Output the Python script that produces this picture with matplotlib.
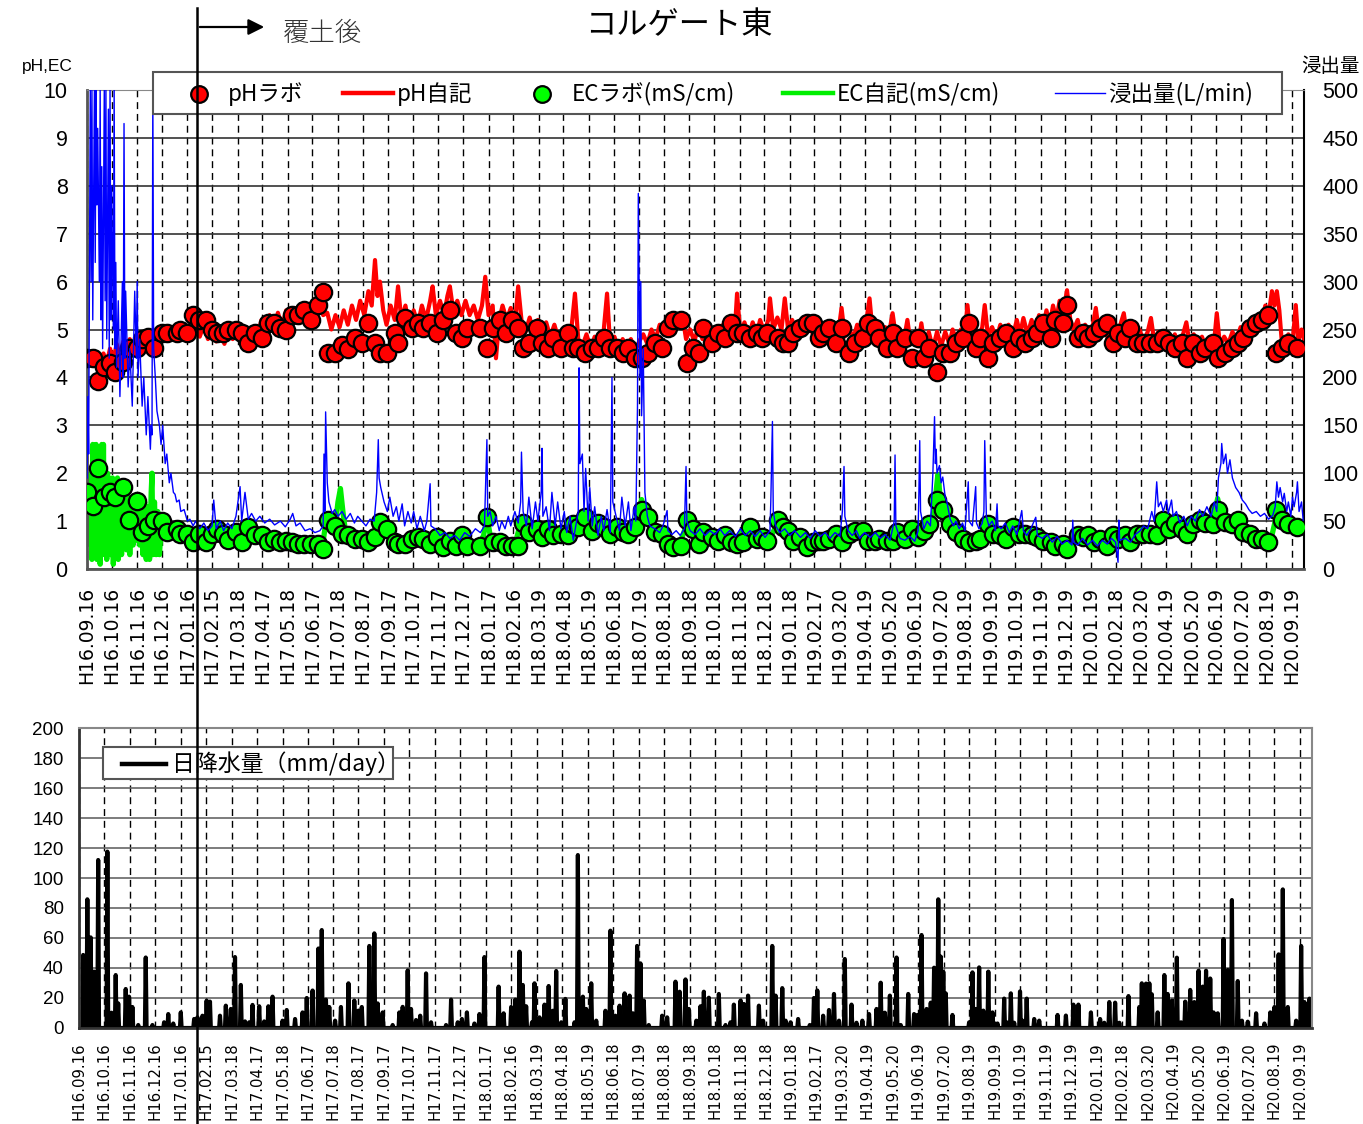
import datetime as dt
import numpy as np
import matplotlib
matplotlib.use("Agg")
import matplotlib.pyplot as plt
from matplotlib.lines import Line2D
from matplotlib.patches import Rectangle, FancyArrowPatch

plt.rcParams['font.family'] = ['Liberation Sans', 'Noto Sans CJK JP', 'DejaVu Sans']
JP = ['Noto Sans CJK JP', 'DejaVu Sans']

# 目盛ラベル(和暦 年.月.日)
tick_labels = [
    'H16.09.16', 'H16.10.16', 'H16.11.16', 'H16.12.16', 'H17.01.16', 'H17.02.15',
    'H17.03.18', 'H17.04.17', 'H17.05.18', 'H17.06.17', 'H17.07.18', 'H17.08.17',
    'H17.09.17', 'H17.10.17', 'H17.11.17', 'H17.12.17', 'H18.01.17', 'H18.02.16',
    'H18.03.19', 'H18.04.18', 'H18.05.19', 'H18.06.18', 'H18.07.19', 'H18.08.18',
    'H18.09.18', 'H18.10.18', 'H18.11.18', 'H18.12.18', 'H19.01.18', 'H19.02.17',
    'H19.03.20', 'H19.04.19', 'H19.05.20', 'H19.06.19', 'H19.07.20', 'H19.08.19',
    'H19.09.19', 'H19.10.19', 'H19.11.19', 'H19.12.19', 'H20.01.19', 'H20.02.18',
    'H20.03.20', 'H20.04.19', 'H20.05.20', 'H20.06.19', 'H20.07.20', 'H20.08.19',
    'H20.09.19',
]

# ラボ分析 (H16.09.16 からの経過日数)
lab_day = [
    0, 7, 13, 21, 28, 34, 44, 51, 61, 67,
    74, 81, 91, 97, 109, 113, 122, 129, 136, 145,
    152, 158, 165, 171, 181, 188, 196, 204, 213, 220,
    227, 235, 242, 249, 256, 264, 272, 281, 287, 293,
    301, 310, 317, 326, 334, 342, 350, 356, 365, 374,
    378, 386, 395, 402, 408, 417, 425, 433, 441, 448,
    456, 462, 478, 486, 493, 502, 509, 517, 524, 530,
    537, 547, 553, 560, 566, 576, 585, 591, 597, 605,
    614, 621, 628, 636, 644, 651, 658, 666, 675, 682,
    690, 699, 706, 712, 722, 729, 737, 744, 749, 760,
    767, 775, 783, 790, 797, 806, 814, 820, 826, 840,
    846, 852, 858, 867, 875, 882, 890, 895, 902, 910,
    918, 926, 933, 943, 949, 958, 963, 972, 980, 984,
    994, 1003, 1010, 1017, 1023, 1033, 1040, 1049, 1056, 1065,
    1072, 1080, 1085, 1095, 1101, 1110, 1117, 1125, 1133, 1140,
    1149, 1155, 1162, 1172, 1176, 1186, 1191, 1204, 1211, 1217,
    1224, 1231, 1240, 1247, 1253, 1262, 1268, 1276, 1283, 1292,
    1300, 1308, 1315, 1322, 1331, 1337, 1344, 1353, 1359, 1369,
    1375, 1383, 1392, 1399, 1405, 1413, 1421, 1428, 1435, 1445,
    1452, 1460, 1471,
]
lab_ph = [
    4.40, 4.40, 3.92, 4.21, 4.30, 4.11, 4.32, 4.61, 4.61, 4.80,
    4.85, 4.61, 4.92, 4.92, 4.92, 5.00, 4.92, 5.30, 5.20, 5.20,
    5.00, 4.92, 4.92, 5.00, 5.00, 4.92, 4.71, 4.92, 4.82, 5.13,
    5.13, 5.03, 5.00, 5.30, 5.30, 5.41, 5.20, 5.51, 5.78, 4.51,
    4.51, 4.68, 4.60, 4.82, 4.71, 5.13, 4.71, 4.51, 4.51, 4.92,
    4.71, 5.24, 5.03, 5.13, 5.03, 5.13, 4.92, 5.20, 5.41, 4.92,
    4.82, 5.03, 5.03, 4.61, 5.03, 5.20, 4.92, 5.20, 5.03, 4.61,
    4.71, 5.03, 4.71, 4.61, 4.82, 4.61, 4.92, 4.61, 4.61, 4.51,
    4.61, 4.61, 4.82, 4.61, 4.61, 4.51, 4.61, 4.40, 4.40, 4.51,
    4.71, 4.61, 5.03, 5.20, 5.20, 4.30, 4.61, 4.51, 5.03, 4.71,
    4.92, 4.82, 5.13, 4.92, 4.92, 4.82, 4.92, 4.82, 4.92, 4.82,
    4.71, 4.71, 4.92, 5.03, 5.13, 5.13, 4.82, 4.92, 5.03, 4.71,
    5.03, 4.51, 4.71, 4.82, 5.13, 5.03, 4.82, 4.61, 4.92, 4.61,
    4.82, 4.40, 4.82, 4.40, 4.61, 4.11, 4.51, 4.51, 4.71, 4.82,
    5.13, 4.61, 4.82, 4.40, 4.71, 4.82, 4.92, 4.61, 4.82, 4.71,
    4.82, 4.92, 5.13, 4.82, 5.20, 5.13, 5.51, 4.82, 4.92, 4.82,
    4.92, 5.03, 5.13, 4.71, 4.92, 4.82, 5.03, 4.71, 4.71, 4.71,
    4.71, 4.82, 4.71, 4.61, 4.71, 4.40, 4.71, 4.51, 4.61, 4.71,
    4.40, 4.51, 4.61, 4.71, 4.82, 5.03, 5.13, 5.20, 5.30, 4.51,
    4.61, 4.71, 4.61,
]
lab_ec = [
    1.61, 1.32, 2.11, 1.50, 1.61, 1.50, 1.71, 1.02, 1.42, 0.77,
    0.90, 1.02, 1.00, 0.77, 0.84, 0.74, 0.74, 0.56, 0.74, 0.56,
    0.74, 0.84, 0.74, 0.60, 0.77, 0.57, 0.88, 0.72, 0.72, 0.57,
    0.63, 0.56, 0.59, 0.56, 0.52, 0.52, 0.52, 0.52, 0.42, 1.02,
    0.90, 0.74, 0.72, 0.63, 0.63, 0.56, 0.67, 0.98, 0.84, 0.56,
    0.52, 0.52, 0.63, 0.67, 0.63, 0.52, 0.67, 0.45, 0.59, 0.49,
    0.72, 0.49, 0.49, 1.09, 0.56, 0.56, 0.49, 0.47, 0.47, 0.95,
    0.77, 0.84, 0.67, 0.84, 0.72, 0.74, 0.72, 0.93, 0.88, 1.09,
    0.80, 0.95, 0.88, 0.74, 0.88, 0.77, 0.74, 0.88, 1.23, 1.09,
    0.77, 0.74, 0.52, 0.45, 0.49, 1.02, 0.84, 0.52, 0.77, 0.67,
    0.59, 0.72, 0.56, 0.52, 0.56, 0.88, 0.63, 0.67, 0.59, 1.02,
    0.88, 0.80, 0.59, 0.67, 0.45, 0.56, 0.59, 0.59, 0.63, 0.74,
    0.56, 0.74, 0.80, 0.80, 0.59, 0.59, 0.63, 0.59, 0.59, 0.77,
    0.63, 0.84, 0.67, 0.80, 0.93, 1.44, 1.23, 0.93, 0.77, 0.63,
    0.56, 0.59, 0.63, 0.93, 0.74, 0.72, 0.63, 0.88, 0.74, 0.74,
    0.72, 0.67, 0.59, 0.56, 0.49, 0.52, 0.42, 0.72, 0.67, 0.72,
    0.56, 0.63, 0.49, 0.72, 0.63, 0.72, 0.56, 0.74, 0.74, 0.74,
    0.72, 1.02, 0.84, 0.95, 0.84, 0.74, 0.93, 1.02, 0.95, 0.93,
    1.23, 0.98, 0.93, 1.02, 0.77, 0.74, 0.63, 0.63, 0.56, 1.23,
    1.02, 0.93, 0.88,
]

# pH 自記 (日, pH)
ph_log = [
    (1, 4.35), (4, 4.45), (8, 4.3), (12, 4.5), (16, 4.2), (20, 4.5), (24, 4.3), (28, 4.6),
    (32, 4.35), (36, 4.7), (40, 4.4), (44, 4.75), (48, 4.5), (52, 4.8), (56, 4.55), (60, 4.85),
    (64, 4.6), (68, 4.9), (72, 4.7), (76, 4.95), (80, 4.75), (84, 4.95), (88, 4.8), (92, 5.0),
    (97, 4.85), (102, 5.0), (107, 4.9), (112, 5.05), (117, 4.9), (122, 5.05), (127, 4.9), (132, 5.1),
    (137, 4.85), (142, 5.1), (147, 4.8), (152, 5.05), (157, 4.75), (162, 5.0), (167, 4.7), (172, 5.0),
    (177, 4.8), (182, 5.05), (187, 4.75), (192, 5.0), (197, 4.7), (202, 5.05), (207, 4.85), (212, 5.2),
    (217, 4.95), (222, 5.3), (227, 5.0), (232, 5.35), (237, 5.05), (242, 5.4), (247, 5.1), (252, 5.45),
    (257, 5.15), (262, 5.5), (267, 5.2), (272, 5.55), (277, 5.25), (282, 5.6), (287, 5.3), (292, 5.35),
    (297, 5.0), (302, 5.3), (307, 5.05), (312, 5.4), (317, 5.1), (322, 5.5), (327, 5.2), (332, 5.6),
    (337, 5.3), (342, 5.8), (346, 5.5), (350, 6.45), (353, 5.7), (356, 6.0), (360, 5.4), (364, 5.1),
    (369, 5.5), (374, 5.2), (378, 5.9), (382, 5.2), (387, 5.5), (392, 5.0), (397, 5.4), (402, 5.1),
    (407, 5.5), (412, 5.2), (417, 5.6), (420, 5.9), (424, 5.3), (429, 5.6), (434, 5.3), (438, 5.7),
    (441, 5.9), (445, 5.4), (450, 5.6), (455, 5.3), (460, 5.6), (465, 5.3), (470, 5.5), (475, 5.2),
    (480, 5.5), (484, 6.1), (488, 5.3), (493, 5.5), (497, 4.4), (501, 5.2), (505, 5.5), (510, 5.2),
    (515, 5.45), (520, 5.1), (524, 5.9), (528, 5.2), (533, 4.95), (538, 5.25), (543, 4.9), (548, 5.2),
    (553, 4.85), (558, 5.15), (563, 4.85), (568, 5.1), (573, 4.8), (578, 5.0), (583, 4.75), (588, 4.9),
    (593, 5.75), (597, 4.8), (602, 4.65), (607, 4.9), (612, 4.6), (617, 4.85), (622, 4.6), (627, 4.8),
    (632, 5.75), (636, 4.6), (641, 4.85), (646, 4.55), (651, 4.8), (656, 4.6), (661, 4.8), (666, 4.55),
    (671, 4.75), (676, 4.9), (681, 4.7), (686, 5.0), (691, 4.8), (696, 5.1), (701, 4.9), (706, 5.2),
    (711, 5.0), (716, 5.3), (720, 5.1), (724, 5.25), (728, 4.8), (733, 5.0), (738, 4.75), (743, 5.05),
    (748, 4.8), (753, 5.1), (758, 4.85), (763, 5.05), (768, 4.8), (773, 5.1), (778, 4.85), (782, 5.1),
    (787, 4.9), (790, 5.75), (794, 4.9), (799, 5.15), (804, 4.85), (809, 5.15), (814, 4.9), (818, 5.2),
    (823, 4.95), (828, 5.2), (830, 5.65), (834, 5.0), (839, 5.25), (844, 5.0), (848, 5.65), (852, 5.0),
    (857, 5.2), (862, 4.95), (867, 5.15), (872, 4.9), (877, 5.2), (882, 4.9), (887, 5.15), (892, 4.85),
    (897, 5.1), (902, 4.85), (907, 5.1), (912, 4.8), (917, 5.45), (921, 4.85), (926, 5.05), (931, 4.8),
    (936, 5.1), (941, 4.85), (946, 5.05), (951, 5.65), (955, 4.9), (960, 5.1), (965, 4.85), (970, 5.05),
    (974, 4.85), (979, 5.34), (983, 4.85), (988, 5.0), (992, 4.7), (997, 5.2), (1001, 4.7), (1006, 4.95),
    (1010, 4.65), (1014, 5.13), (1018, 4.65), (1023, 4.95), (1028, 4.6), (1033, 4.95), (1038, 4.65),
    (1043, 4.95), (1048, 4.7), (1052, 5.0), (1057, 4.75), (1062, 5.0), (1066, 4.75), (1070, 5.51),
    (1074, 4.8), (1078, 5.05), (1083, 4.8), (1088, 5.05), (1091, 5.51), (1095, 4.85), (1100, 5.05),
    (1105, 4.8), (1110, 5.1), (1115, 4.85), (1120, 5.1), (1125, 4.85), (1130, 5.2), (1134, 4.9),
    (1138, 5.24), (1143, 4.9), (1148, 5.2), (1152, 4.95), (1157, 5.3), (1162, 5.05), (1166, 5.4),
    (1170, 5.1), (1174, 5.5), (1178, 5.2), (1182, 5.6), (1186, 5.3), (1191, 5.82), (1195, 5.2),
    (1199, 5.0), (1204, 5.2), (1208, 4.85), (1213, 5.1), (1218, 4.8), (1222, 5.05), (1226, 5.45),
    (1230, 4.9), (1235, 5.1), (1240, 4.85), (1245, 5.05), (1250, 4.8), (1255, 5.05), (1260, 5.34),
    (1264, 4.85), (1269, 5.0), (1274, 4.75), (1279, 5.0), (1284, 4.75), (1289, 4.95), (1293, 5.24),
    (1297, 4.75), (1302, 4.95), (1307, 4.7), (1312, 4.9), (1317, 4.7), (1322, 4.9), (1327, 4.65),
    (1332, 4.9), (1336, 5.15), (1340, 4.7), (1345, 4.9), (1350, 4.65), (1355, 4.85), (1360, 4.6),
    (1365, 4.85), (1369, 4.6), (1373, 5.34), (1377, 4.65), (1382, 4.85), (1387, 4.7), (1392, 4.95),
    (1397, 4.8), (1402, 5.05), (1407, 4.9), (1412, 5.15), (1417, 5.0), (1422, 5.3), (1427, 5.1),
    (1432, 5.5), (1436, 5.3), (1440, 5.8), (1443, 5.5), (1446, 5.8), (1449, 5.4), (1452, 4.75),
    (1456, 4.6), (1460, 4.9), (1465, 4.7), (1469, 5.51), (1472, 4.75), (1476, 5.0), (1479, 4.8),
]

# EC 自記 (日, mS/cm)
ec_log = [
    (1, 1.6), (2, 0.8), (3, 1.5), (4, 0.5), (5, 2.0), (6, 0.2), (7, 2.6), (8, 0.3), (9, 2.4),
    (10, 0.5), (11, 2.6), (12, 0.2), (13, 1.9), (14, 0.4), (15, 2.2), (16, 0.1), (18, 2.6),
    (19, 0.3), (20, 2.6), (21, 0.5), (22, 1.8), (24, 0.2), (25, 2.0), (26, 0.4), (28, 1.8),
    (29, 0.3), (31, 1.9), (32, 0.1), (34, 1.6), (35, 0.4), (37, 1.9), (38, 0.2), (40, 1.6),
    (42, 0.3), (43, 1.7), (45, 0.5), (47, 1.6), (48, 0.4), (50, 1.5), (52, 0.3), (54, 1.4),
    (56, 0.5), (58, 1.3), (60, 0.6), (62, 1.5), (64, 0.5), (66, 1.2), (68, 0.3), (70, 1.4),
    (72, 0.2), (74, 1.3), (76, 0.2), (78, 1.6), (79, 2.0), (80, 0.3), (82, 1.4), (84, 0.3),
    (86, 1.2), (88, 0.3), (90, 0.8), (93, 0.9), (97, 0.75), (101, 0.85), (105, 0.7), (109, 0.9),
    (113, 0.75), (117, 0.8), (121, 0.7), (125, 0.75), (130, 0.65), (136, 0.75), (142, 0.6),
    (148, 0.75), (154, 0.7), (160, 0.85), (166, 0.75), (172, 0.65), (178, 0.8), (184, 0.6),
    (190, 0.8), (196, 0.85), (202, 0.7), (208, 0.75), (214, 0.7), (220, 0.6), (226, 0.65),
    (232, 0.58), (238, 0.62), (244, 0.55), (250, 0.6), (256, 0.52), (262, 0.55), (268, 0.5),
    (274, 0.55), (280, 0.5), (286, 0.45), (290, 0.95), (294, 1.1), (298, 0.9), (302, 0.95),
    (305, 1.4), (308, 1.68), (311, 1.2), (314, 0.8), (320, 0.7), (326, 0.65), (332, 0.65),
    (338, 0.6), (344, 0.7), (350, 0.65), (356, 0.95), (362, 0.85), (368, 0.65), (374, 0.55),
    (380, 0.5), (386, 0.55), (392, 0.62), (398, 0.65), (404, 0.6), (410, 0.55), (416, 0.65),
    (422, 0.6), (428, 0.5), (434, 0.45), (440, 0.55), (446, 0.6), (452, 0.5), (458, 0.6),
    (464, 0.5), (470, 0.45), (476, 0.5), (482, 0.7), (486, 1.1), (490, 0.7), (496, 0.6),
    (502, 0.55), (508, 0.5), (514, 0.45), (520, 0.5), (526, 0.9), (532, 0.75), (538, 0.8),
    (544, 0.75), (550, 0.7), (556, 0.8), (562, 0.7), (568, 0.75), (574, 0.7), (580, 0.75),
    (586, 0.7), (592, 0.9), (598, 0.85), (604, 1.05), (610, 0.8), (616, 0.85), (622, 0.9),
    (628, 0.85), (634, 0.8), (640, 0.85), (646, 0.75), (652, 0.8), (658, 0.75), (664, 0.85),
    (670, 1.2), (674, 1.45), (678, 1.2), (684, 1.0), (690, 0.8), (696, 0.7), (702, 0.55),
    (708, 0.5), (714, 0.48), (720, 0.5), (726, 0.8), (730, 1.0), (736, 0.8), (742, 0.6),
    (748, 0.7), (754, 0.7), (760, 0.65), (766, 0.6), (772, 0.65), (778, 0.6), (784, 0.55),
    (790, 0.6), (796, 0.8), (802, 0.65), (808, 0.6), (814, 0.55), (820, 0.6), (826, 0.55),
    (832, 0.7), (840, 1.0), (846, 0.85), (852, 0.75), (858, 0.65), (864, 0.6), (870, 0.55),
    (876, 0.5), (882, 0.55), (888, 0.6), (894, 0.55), (900, 0.6), (906, 0.7), (912, 0.6),
    (918, 0.55), (924, 0.7), (930, 0.75), (936, 0.8), (942, 0.65), (948, 0.6), (954, 0.55),
    (960, 0.6), (966, 0.58), (972, 0.6), (978, 0.62), (984, 0.7), (990, 0.65), (996, 0.7),
    (1002, 0.75), (1008, 0.7), (1014, 0.8), (1020, 0.85), (1026, 0.9), (1030, 1.3), (1034, 1.97),
    (1037, 1.5), (1040, 1.2), (1045, 1.0), (1050, 0.9), (1056, 0.8), (1062, 0.7), (1068, 0.62),
    (1074, 0.6), (1080, 0.6), (1086, 0.62), (1092, 0.8), (1098, 0.75), (1104, 0.72), (1110, 0.7),
    (1116, 0.65), (1122, 0.75), (1128, 0.72), (1134, 0.75), (1140, 0.7), (1146, 0.7), (1152, 0.65),
    (1158, 0.6), (1164, 0.58), (1170, 0.55), (1176, 0.5), (1182, 0.5), (1188, 0.45), (1194, 0.55),
    (1200, 0.6), (1206, 0.7), (1212, 0.65), (1218, 0.7), (1224, 0.55), (1230, 0.6), (1236, 0.5),
    (1242, 0.55), (1248, 0.6), (1254, 0.6), (1260, 0.65), (1266, 0.6), (1272, 0.6), (1278, 0.7),
    (1284, 0.75), (1290, 0.72), (1296, 0.8), (1302, 0.85), (1308, 1.1), (1314, 0.9), (1320, 0.95),
    (1326, 0.85), (1332, 0.9), (1338, 0.8), (1344, 0.95), (1350, 1.0), (1356, 0.95), (1362, 1.0),
    (1368, 0.95), (1374, 1.47), (1378, 1.2), (1384, 1.0), (1390, 0.95), (1396, 0.9), (1402, 1.0),
    (1408, 0.85), (1414, 0.75), (1420, 0.65), (1426, 0.65), (1432, 0.6), (1438, 0.55), (1444, 1.0),
    (1448, 1.2), (1454, 1.05), (1460, 0.95), (1466, 0.9), (1472, 0.85), (1478, 0.8),
]

# 浸出量 (日, L/min)
flow = [
    (0, 95), (1, 180), (2, 120), (4, 500), (5, 300), (6, 500), (7, 260), (9, 500), (10, 320),
    (11, 500), (12, 380), (13, 460), (15, 300), (16, 500), (17, 260), (18, 420), (19, 230),
    (21, 500), (22, 280), (23, 500), (24, 240), (26, 480), (27, 220), (28, 500), (29, 260),
    (30, 400), (32, 250), (33, 500), (34, 230), (35, 320), (36, 210), (38, 280), (40, 180),
    (43, 300), (44, 200), (45, 465), (46, 220), (47, 290), (50, 190), (52, 230), (55, 170),
    (57, 250), (58, 290), (60, 220), (61, 300), (62, 200), (64, 240), (67, 170), (69, 200),
    (72, 140), (74, 180), (77, 125), (78, 150), (79, 140), (80, 500), (81, 230), (83, 200),
    (85, 165), (88, 150), (90, 130), (92, 150), (95, 110), (97, 120), (100, 90), (102, 100),
    (105, 80), (107, 78), (109, 70), (112, 72), (114, 60), (118, 62), (122, 50), (125, 52),
    (129, 45), (132, 50), (137, 42), (142, 48), (147, 40), (152, 45), (154, 72), (157, 42),
    (162, 50), (166, 40), (171, 48), (176, 42), (181, 55), (186, 86), (188, 50), (192, 80),
    (196, 52), (200, 58), (205, 50), (210, 55), (216, 48), (222, 52), (228, 46), (235, 50),
    (241, 44), (247, 52), (250, 58), (254, 45), (259, 48), (265, 40), (271, 42), (277, 38),
    (283, 40), (287, 45), (288, 120), (289, 60), (290, 164), (292, 90), (294, 70), (298, 58),
    (301, 62), (305, 55), (310, 60), (315, 52), (320, 58), (325, 48), (329, 55), (334, 50),
    (339, 45), (344, 52), (349, 50), (352, 80), (354, 135), (355, 95), (357, 85), (361, 70),
    (365, 60), (368, 75), (372, 55), (376, 65), (379, 50), (383, 68), (386, 45), (390, 60),
    (394, 48), (397, 60), (401, 42), (405, 55), (410, 40), (413, 50), (417, 89), (418, 45),
    (423, 42), (429, 35), (435, 38), (441, 32), (447, 35), (453, 30), (459, 38), (465, 34),
    (472, 42), (478, 38), (483, 45), (486, 135), (487, 55), (490, 60), (493, 45), (497, 55),
    (501, 40), (504, 50), (508, 42), (512, 55), (515, 45), (520, 60), (524, 48), (527, 70),
    (528, 122), (530, 60), (534, 45), (537, 75), (541, 42), (545, 70), (548, 50), (552, 80),
    (553, 126), (554, 55), (558, 65), (562, 40), (565, 80), (569, 45), (572, 70), (576, 42),
    (580, 60), (583, 38), (587, 55), (591, 30), (595, 50), (597, 60), (598, 210), (599, 110),
    (602, 120), (604, 60), (606, 105), (609, 50), (611, 85), (614, 45), (617, 65), (621, 35),
    (625, 55), (628, 40), (632, 62), (636, 38), (638, 200), (639, 70), (643, 55), (647, 40),
    (650, 75), (654, 45), (658, 70), (661, 40), (665, 65), (667, 50), (669, 170), (670, 392),
    (672, 200), (673, 300), (674, 160), (676, 230), (678, 80), (681, 55), (684, 45), (690, 42),
    (696, 38), (700, 45), (705, 61), (706, 40), (711, 36), (716, 40), (721, 35), (726, 42),
    (728, 107), (729, 50), (733, 40), (739, 36), (745, 42), (751, 35), (757, 40), (763, 36),
    (769, 42), (775, 35), (781, 40), (788, 34), (794, 42), (800, 35), (806, 40), (812, 34),
    (818, 40), (824, 33), (830, 40), (831, 70), (833, 154), (834, 60), (837, 45), (842, 38),
    (848, 42), (854, 35), (860, 40), (867, 33), (873, 38), (879, 32), (885, 40), (891, 34),
    (897, 38), (903, 32), (909, 38), (915, 34), (918, 60), (920, 107), (921, 55), (925, 40),
    (930, 35), (935, 40), (939, 32), (945, 38), (952, 33), (958, 38), (964, 32), (970, 36),
    (976, 30), (981, 50), (982, 119), (983, 45), (988, 32), (994, 30), (1000, 34), (1006, 29),
    (1010, 40), (1011, 80), (1012, 134), (1013, 60), (1017, 42), (1021, 50), (1025, 45),
    (1028, 100), (1030, 159), (1031, 110), (1032, 125), (1033, 100), (1036, 108), (1038, 90),
    (1040, 96), (1043, 75), (1045, 70), (1049, 52), (1053, 45), (1056, 50), (1060, 42),
    (1064, 48), (1067, 40), (1071, 91), (1072, 50), (1076, 45), (1080, 86), (1081, 48),
    (1084, 42), (1088, 48), (1090, 60), (1091, 134), (1093, 55), (1096, 45), (1100, 50),
    (1104, 40), (1106, 68), (1107, 45), (1111, 42), (1116, 48), (1121, 38), (1125, 45),
    (1130, 36), (1136, 61), (1138, 40), (1142, 35), (1147, 42), (1153, 54), (1155, 35),
    (1161, 32), (1167, 36), (1173, 28), (1179, 34), (1185, 26), (1191, 30), (1197, 25),
    (1198, 51), (1199, 28), (1204, 25), (1210, 32), (1216, 25), (1222, 30), (1228, 24),
    (1234, 30), (1240, 26), (1245, 32), (1250, 28), (1253, 7), (1254, 51), (1255, 30),
    (1262, 32), (1268, 28), (1274, 36), (1280, 40), (1284, 45), (1289, 42), (1294, 60),
    (1297, 50), (1300, 91), (1302, 65), (1305, 70), (1308, 60), (1312, 72), (1314, 58),
    (1318, 72), (1320, 55), (1324, 60), (1328, 48), (1333, 55), (1337, 45), (1342, 55),
    (1347, 50), (1352, 62), (1356, 55), (1361, 65), (1366, 55), (1370, 70), (1373, 60),
    (1375, 95), (1378, 110), (1379, 131), (1381, 110), (1384, 120), (1386, 100), (1389, 114),
    (1392, 95), (1396, 85), (1400, 80), (1404, 72), (1408, 68), (1412, 62), (1416, 58),
    (1421, 60), (1426, 55), (1431, 58), (1436, 52), (1441, 56), (1444, 65), (1446, 91),
    (1448, 75), (1450, 85), (1453, 70), (1455, 79), (1458, 60), (1460, 70), (1463, 55),
    (1465, 75), (1467, 65), (1470, 80), (1471, 91), (1473, 60), (1476, 70), (1478, 51),
]

# 日降水量 (日, mm)
rain_day = [
    5, 10, 14, 18, 23, 34, 39, 44, 47, 56, 60, 64, 71, 80, 88, 102, 107, 113, 122, 138,
    142, 148, 153, 157, 169, 176, 182, 187, 194, 199, 204, 208, 216, 222, 227, 232, 244, 249, 259, 268,
    273, 280, 287, 291, 296, 300, 307, 314, 323, 330, 335, 339, 348, 354, 358, 364, 376, 384, 388, 394,
    398, 404, 409, 416, 422, 440, 446, 454, 459, 465, 474, 480, 486, 503, 509, 518, 523, 528, 532, 536,
    543, 546, 552, 558, 563, 568, 572, 578, 583, 594, 598, 604, 608, 614, 620, 631, 637, 643, 648, 654,
    660, 664, 669, 673, 677, 683, 699, 705, 715, 720, 727, 731, 740, 745, 749, 755, 767, 775, 781, 785,
    793, 797, 802, 815, 820, 831, 835, 843, 847, 853, 862, 876, 881, 885, 892, 899, 905, 911, 918, 926,
    932, 939, 947, 956, 961, 966, 972, 980, 985, 994, 1001, 1005, 1010, 1016, 1021, 1025, 1030, 1033, 1036, 1039,
    1047, 1067, 1071, 1075, 1079, 1084, 1090, 1095, 1101, 1109, 1112, 1117, 1121, 1128, 1131, 1136, 1145, 1151, 1173, 1183,
    1192, 1198, 1213, 1224, 1229, 1235, 1242, 1247, 1258, 1271, 1274, 1279, 1283, 1286, 1293, 1301, 1305, 1310, 1316, 1321,
    1326, 1332, 1337, 1342, 1347, 1351, 1356, 1360, 1365, 1372, 1377, 1382, 1389, 1394, 1401, 1411, 1421, 1428, 1433, 1438,
    1443, 1449, 1459, 1465, 1469, 1475,
]
rain_mm = [
    48.7, 85.8, 60.4, 37.6, 112, 117.6, 10.2, 35.3, 16.4, 26, 20.9, 14, 2, 47, 2, 3.8, 9.3, 3, 10.4, 6,
    7.1, 8.2, 18.3, 17.6, 8.2, 14.9, 12.7, 47.3, 28.7, 4.4, 3.8, 15.4, 14.5, 4.4, 14.5, 20.9, 4.9, 12, 6, 10.4,
    20, 25, 53, 65.3, 18.9, 14, 4.9, 14, 29.8, 18.3, 11.6, 14, 54.7, 63.1, 16.4, 10.4, 2, 10.4, 14.1, 38.4,
    12.7, 5.3, 8.2, 36.4, 3.8, 2, 18.9, 3.8, 6, 10.4, 3, 9.3, 47.3, 27.6, 9.8, 14, 18.9, 50.9, 28.7, 14.5,
    3.8, 29.8, 7.1, 15.6, 28, 11.5, 38, 3.8, 19.4, 3.8, 115.3, 20.9, 12.7, 29.8, 4.9, 11.5, 64.9, 8.2, 14.9, 23.1,
    21.6, 9.8, 54.7, 43.1, 18.3, 2, 8.2, 7.1, 30.9, 24.2, 32.4, 12.7, 4.9, 14.5, 24.2, 20.2, 22.7, 2, 3.8, 15.6,
    18.3, 16, 21.6, 14.9, 4.9, 54.7, 21.6, 26.6, 4.9, 3.8, 6, 2, 20, 25, 8.2, 12, 22.7, 4.9, 46, 15.6,
    3.5, 4.9, 9.3, 12.7, 30.2, 10.2, 21.6, 47, 2, 22.7, 9.3, 8.7, 62, 12.7, 16.9, 40.2, 85.8, 47.6, 37.6, 23.1,
    8.7, 3.8, 37.1, 12.7, 40.4, 11.6, 37.6, 10.4, 3, 19.6, 3.8, 23.1, 3.5, 24.4, 4.9, 19.6, 6, 4.9, 8.7, 8.3,
    15.6, 15.6, 10.4, 6, 3.5, 17.3, 16.9, 3.5, 21.3, 14, 29.8, 29.6, 29.8, 22.5, 10.4, 35.3, 22.7, 18.3, 46.9, 3.8,
    17.6, 25.4, 17.3, 38.2, 27.6, 38.2, 33, 10.4, 9.8, 59.3, 38.7, 85.3, 31.3, 4.9, 4.2, 9.8, 3, 10.4, 14, 49.1,
    92.4, 14, 4.9, 54.7, 17.3, 19.6,
]

start = dt.date(2004, 9, 16)
n_days = 1479


def label_day(s):
    y, m, d = s[1:].split('.')
    return (dt.date(1988 + int(y), int(m), int(d)) - start).days


tick_pos = [label_day(s) for s in tick_labels]

rain = np.zeros(n_days)
rain[rain_day] = rain_mm

W, H = 1363, 1124
fig = plt.figure(figsize=(W / 100, H / 100), dpi=100)


def box(l, t, r, b):
    return [l / W, 1 - b / H, (r - l) / W, (b - t) / H]


def fx(x):
    return x / W


def fy(y):
    return 1 - y / H


dash = (0, (5, 3.5))

# ---- 上段: pH, EC, 浸出量 ----
ax = fig.add_axes(box(87, 90, 1304, 569))
ax.set_xlim(0, n_days)
ax.set_ylim(0, 10)
ax.set_yticks(range(0, 11))
ax.set_xticks(tick_pos)
ax.set_xticklabels(tick_labels, rotation=90, fontfamily='DejaVu Sans', fontsize=13.5)
ax.tick_params(axis='x', length=0, pad=13)
ax.tick_params(axis='y', length=0, labelsize=15.5, pad=14)
ax.grid(axis='y', color='#333333', lw=1.2)
ax.grid(axis='x', color='black', lw=1.0, ls=dash)
ax.set_axisbelow(True)
for side in ['left', 'bottom']:
    ax.spines[side].set_color('#555555')
    ax.spines[side].set_linewidth(2)
ax.spines['top'].set_color('#888888')
ax.spines['right'].set_color('black')
ax.spines['right'].set_linewidth(1.5)

d, v = np.array(ec_log).T
ax.plot(d, v, color='#00ee00', lw=3.8, zorder=2)
d, v = np.array(ph_log).T
ax.plot(d, v, color='red', lw=3.0, zorder=3)
ax.plot(lab_day, lab_ph, 'o', ms=12.5, mfc='red', mec='black', mew=1.6, zorder=4)
ax.plot(lab_day, lab_ec, 'o', ms=12.5, mfc='#00ff00', mec='black', mew=1.6, zorder=4)

ax2 = ax.twinx()
ax2.set_ylim(0, 500)
ax2.set_yticks(range(0, 501, 50))
ax2.tick_params(axis='y', length=0, labelsize=15.5, pad=13)
for s in ax2.spines.values():
    s.set_visible(False)
d, v = np.array(flow).T
ax2.plot(d, v, color='blue', lw=1.0, zorder=5)

# ---- 下段: 日降水量 ----
ax3 = fig.add_axes(box(79, 728, 1312, 1028))
ax3.set_xlim(0, n_days - 1)
ax3.set_ylim(0, 200)
ax3.set_yticks(range(0, 201, 20))
ax3.set_xticks(tick_pos)
ax3.set_xticklabels(tick_labels, rotation=90, fontfamily='DejaVu Sans', fontsize=10.7)
ax3.tick_params(axis='x', length=0, pad=10)
ax3.tick_params(axis='y', length=0, labelsize=13.5, pad=11)
ax3.grid(axis='y', color='#666666', lw=1.2)
ax3.grid(axis='x', color='black', lw=1.0, ls=dash)
ax3.set_axisbelow(True)
for side in ['left', 'bottom']:
    ax3.spines[side].set_color('#333333')
    ax3.spines[side].set_linewidth(2)
for side in ['top', 'right']:
    ax3.spines[side].set_color('#888888')
    ax3.spines[side].set_linewidth(1.5)
ax3.plot(np.arange(n_days), rain, color='black', lw=3.0)

# ---- 文字 ----
fig.text(fx(679), fy(25), 'コルゲート東', family=JP, fontsize=22.5, ha='center', va='center')
fig.text(fx(47), fy(66), 'pH,EC', fontsize=12.5, ha='center', va='center')
fig.text(fx(1330), fy(66), '浸出量', family=JP, fontsize=14, ha='center', va='center')
fig.text(fx(283), fy(33), '覆土後', family=JP, fontsize=19, color='#333333',
         fontweight='light', ha='left', va='center')
fig.add_artist(FancyArrowPatch((fx(197), fy(27)), (fx(267), fy(27)), transform=fig.transFigure,
                               arrowstyle='-|>', mutation_scale=24, lw=1.6, color='black'))

# 上段凡例
fig.add_artist(Rectangle((fx(153), fy(114)), (1282 - 153) / W, 42 / H, transform=fig.transFigure,
                         facecolor='white', edgecolor='#555555', lw=1.5, zorder=5))
legend_items = [
    ('marker', 199, 228, 'red', 'pHラボ'),
    ('line', 343, 397, 'red', 'pH自記'),
    ('marker', 542, 572, '#00ff00', 'ECラボ(mS/cm)'),
    ('line', 783, 837, '#00ee00', 'EC自記(mS/cm)'),
    ('thin', 1055, 1108, 'blue', '浸出量(L/min)'),
]
for kind, hx, tx, col, label in legend_items:
    if kind == 'marker':
        fig.add_artist(Line2D([fx(hx)], [fy(94)], marker='o', ms=12, mfc=col, mec='black',
                              mew=1.6, ls='none', zorder=6))
    else:
        fig.add_artist(Line2D([fx(hx), fx(hx + 50)], [fy(93)] * 2, color=col,
                              lw=1.0 if kind == 'thin' else 3.2, zorder=6))
    fig.text(fx(tx), fy(94), label, family=JP, fontsize=16.2, ha='left', va='center', zorder=7)

# 下段凡例
fig.add_artist(Rectangle((fx(103), fy(779)), (393 - 103) / W, 32 / H, transform=fig.transFigure,
                         facecolor='white', edgecolor='#555555', lw=1.5, zorder=5))
fig.add_artist(Line2D([fx(122), fx(166)], [fy(764)] * 2, color='black', lw=3.2, zorder=6))
fig.text(fx(172), fy(764), '日降水量（mm/day）', family=JP, fontsize=16.5, ha='left', va='center',
         zorder=7)

# 覆土開始の縦線
fig.add_artist(Line2D([fx(197), fx(197)], [fy(8), 0], color='black', lw=1.8, zorder=10))

fig.savefig('out.png', dpi=100)
